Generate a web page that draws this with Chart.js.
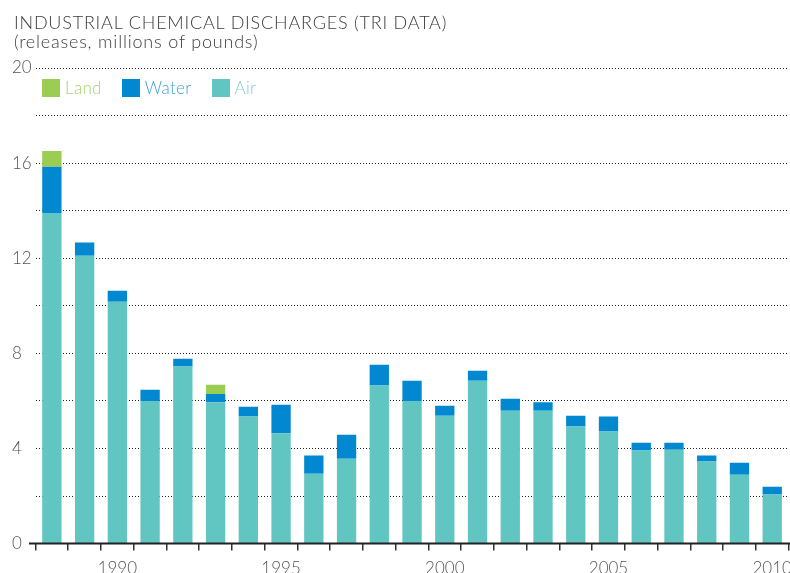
<!DOCTYPE html>
<html>
<head>
<meta charset="utf-8">
<script src="https://cdn.jsdelivr.net/npm/chart.js@4/dist/chart.umd.min.js"></script>
<style>
    body { margin: 0; overflow: hidden; background: #fff; font-family: Lato, "Open Sans", sans-serif; }
    #wrap { position: relative; width: 790px; height: 573px; overflow: hidden; }
    #title { position: absolute; left: 14px; top: 13px; color: #3c3c3c; font-size: 18px; font-weight: 300; line-height: 19px; letter-spacing: 0.8px; }
    #legend { position: absolute; left: 42px; top: 77px; display: flex; font-size: 17px; font-weight: 300; letter-spacing: 0.3px; }
    #legend .item { display: flex; align-items: center; margin-right: 20px; }
    #legend .box { width: 18px; height: 18px; margin-right: 5px; }
    canvas { position: absolute; left: 0; top: 0; }
</style>
</head>
<body>
<div id="wrap">
    <canvas id="chart" width="800" height="592"></canvas>
    <div id="title">INDUSTRIAL CHEMICAL DISCHARGES (TRI DATA)<br>(releases, millions of pounds)</div>
    <div id="legend"></div>
</div>
<script>
// --- Data (millions of pounds) ---

const years = [1988, 1989, 1990, 1991, 1992, 1993, 1994, 1995, 1996, 1997, 1998, 1999,
               2000, 2001, 2002, 2003, 2004, 2005, 2006, 2007, 2008, 2009, 2010];

const airReleases = [13.9, 12.1, 10.17, 6.0, 7.45, 5.94, 5.34, 4.64, 2.94, 3.57, 6.65, 6.0,
                     5.38, 6.85, 5.59, 5.59, 4.92, 4.71, 3.91, 3.95, 3.45, 2.90, 2.06];

const waterReleases = [1.95, 0.56, 0.46, 0.47, 0.32, 0.35, 0.42, 1.2, 0.76, 1.01, 0.87, 0.85,
                       0.42, 0.42, 0.50, 0.35, 0.46, 0.63, 0.33, 0.29, 0.25, 0.50, 0.33];

const landReleases = [0.66, 0, 0, 0, 0, 0.39, 0, 0, 0, 0, 0, 0,
                      0, 0, 0, 0, 0, 0, 0, 0, 0, 0, 0];

const yTickLabels = [0, 4, 8, 12, 16, 20];

// legend order (top to bottom of the stack)
const seriesNames = ['Land', 'Water', 'Air'];
const seriesColors = ['#9acd52', '#0288d1', '#61c6c2'];
const legendTextColors = ['#a6d46a', '#3f9fdc', '#7fd1cc'];

// --- Legend ---
const legendEl = document.getElementById('legend');
seriesNames.forEach((name, i) => {
    legendEl.innerHTML += `<div class="item"><div class="box" style="background:${seriesColors[i]}"></div>` +
        `<span style="color:${legendTextColors[i]}">${name}</span></div>`;
});

// Solid baseline at zero, runs a bit left of the plot area like the original
const baselinePlugin = {
    id: 'baseline',
    afterDatasetsDraw(chart) {
        const ctx = chart.ctx;
        const y = chart.scales.y.getPixelForValue(0);
        ctx.save();
        ctx.strokeStyle = '#222';
        ctx.lineWidth = 2;
        ctx.beginPath();
        ctx.moveTo(29, y);
        ctx.lineTo(chart.width, y);
        ctx.stroke();
        ctx.restore();
    }
};

const tickFont = { family: 'Lato, "Open Sans", sans-serif', size: 17, weight: '300' };

new Chart(document.getElementById('chart'), {
    type: 'bar',
    data: {
        labels: years,
        datasets: [
            { label: 'Air', data: airReleases, backgroundColor: seriesColors[2] },
            { label: 'Water', data: waterReleases, backgroundColor: seriesColors[1] },
            { label: 'Land', data: landReleases, backgroundColor: seriesColors[0] }
        ]
    },
    options: {
        responsive: false,
        animation: false,
        layout: { padding: { left: 12, right: 3, top: 68, bottom: 5 } },
        datasets: { bar: { categoryPercentage: 1, barPercentage: 0.59 } },
        scales: {
            x: {
                stacked: true,
                border: { display: false },
                grid: { drawOnChartArea: false, drawTicks: true, tickLength: 7, color: '#333', lineWidth: 1.5 },
                ticks: {
                    color: '#555', font: tickFont, padding: 8, autoSkip: false, maxRotation: 0,
                    callback: function(v, i) { return years[i] % 5 === 0 ? String(years[i]) : ''; }
                }
            },
            y: {
                stacked: true,
                min: 0,
                max: 20,
                border: { display: false, dash: [1, 2] },
                grid: { color: '#222', lineWidth: 1, drawTicks: false },
                ticks: {
                    stepSize: 2, color: '#555', font: tickFont, padding: 0, crossAlign: 'far',
                    callback: v => yTickLabels.includes(v) ? v : ''
                },
                afterFit: scale => { scale.width = 23.5; }
            }
        },
        plugins: {
            legend: { display: false },
            tooltip: { enabled: false }
        }
    },
    plugins: [baselinePlugin]
});
</script>
</body>
</html>
